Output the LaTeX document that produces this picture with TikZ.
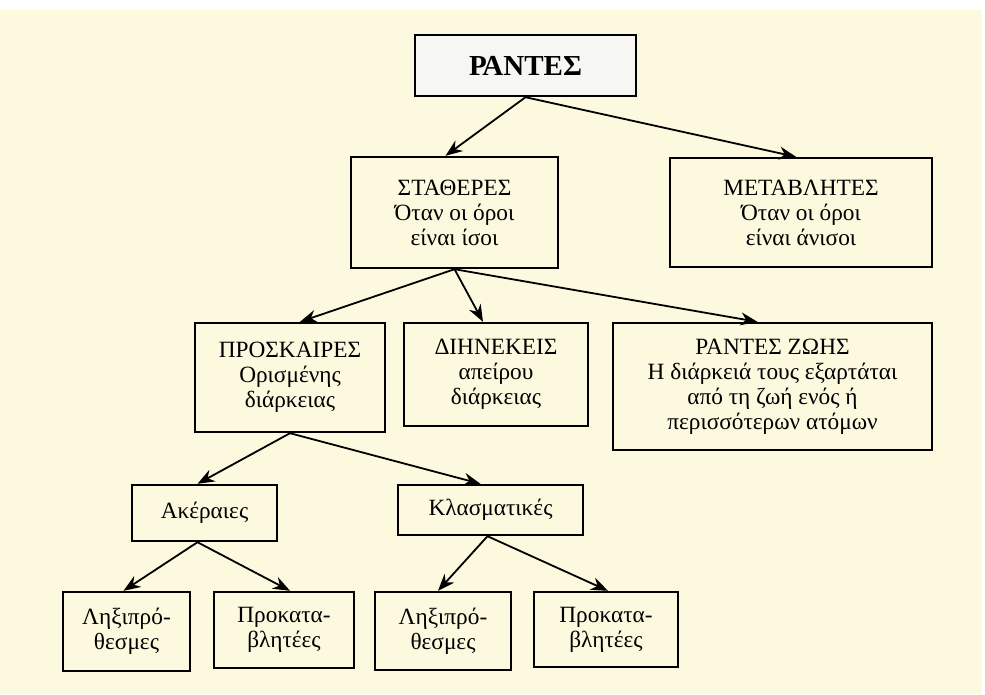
\documentclass[tikz,border=0pt]{standalone}
\usepackage{fontspec}
\setmainfont{Liberation Serif}
\usetikzlibrary{arrows.meta}
\definecolor{cream}{RGB}{252,249,222}
\definecolor{paper}{RGB}{246,246,243}

\begin{document}
\begin{tikzpicture}[x=1pt,y=-1pt,->,>={Stealth[length=17pt,width=13pt]},line width=1.8pt,
	state/.style={draw=black,line width=2.4pt,rectangle,fill=cream,align=center,inner sep=0pt,font=\fontsize{23.3}{25}\selectfont},
	root/.style={state,fill=paper,font=\fontsize{29}{32}\selectfont\bfseries}]
	% background
	\fill[-,white] (0,0) rectangle (985,694);
	\fill[-,cream] (0,10) rectangle (982,694);
	\useasboundingbox (0,0) rectangle (985,694);

	\node[root]		(rantes)	at (525.5,65.5)	[minimum width=221pt,minimum height=61pt]	{ΡΑΝΤΕΣ};
	\node[state]	(stath)		at (454.5,212.5)	[minimum width=207pt,minimum height=111pt]	{ΣΤΑΘΕΡΕΣ\\Όταν οι όροι\\είναι ίσοι};
	\node[state]	(metab)		at (801,212.5)	[minimum width=262pt,minimum height=109pt]	{ΜΕΤΑΒΛΗΤΕΣ\\Όταν οι όροι\\είναι άνισοι};
	\node[state]	(prosk)		at (290,377.5)	[minimum width=190pt,minimum height=109pt]	{ΠΡΟΣΚΑΙΡΕΣ\\Ορισμένης\\διάρκειας};
	\node[state]	(dien)		at (496,374.5)	[minimum width=184pt,minimum height=103pt]	{ΔΙΗΝΕΚΕΙΣ\\απείρου\\διάρκειας};
	\node[state]	(zoi)		at (772.5,386.5)	[minimum width=319pt,minimum height=127pt]	{ΡΑΝΤΕΣ ΖΩΗΣ\\Η διάρκειά τους εξαρτάται\\από τη ζωή ενός ή\\περισσότερων ατόμων};
	\node[state]	(aker)		at (204.5,513)	[minimum width=145pt,minimum height=56pt]	{Ακέραιες};
	\node[state]	(klasm)		at (490.5,510)	[minimum width=185pt,minimum height=50pt]	{Κλασματικές};
	\node[state]	(lix1)		at (126.5,631.5)	[minimum width=127pt,minimum height=79pt]	{Ληξιπρό-\\θεσμες};
	\node[state]	(prok1)		at (284,630)	[minimum width=140pt,minimum height=76pt]	{Προκατα-\\βλητέες};
	\node[state]	(lix2)		at (443,631)	[minimum width=136pt,minimum height=78pt]	{Ληξιπρό-\\θεσμες};
	\node[state]	(prok2)		at (606,629.5)	[minimum width=144pt,minimum height=75pt]	{Προκατα-\\βλητέες};

	\path
		(rantes.south)				edge	([xshift=-9pt]stath.north)
		(rantes.south)				edge	([xshift=-5pt]metab.north)
		(stath.south)				edge	([xshift=10pt]prosk.north)
		(stath.south)				edge	([xshift=-13pt]dien.north)
		(stath.south)				edge	([xshift=-15pt]zoi.north)
		(prosk.south)				edge	([xshift=-7pt]aker.north)
		(prosk.south)				edge	([xshift=-10pt]klasm.north)
		([xshift=-7pt]aker.south)	edge	([xshift=-3pt]lix1.north)
		([xshift=-7pt]aker.south)	edge	([xshift=6pt]prok1.north)
		([xshift=-3pt]klasm.south)	edge	([xshift=-5pt]lix2.north)
		([xshift=-3pt]klasm.south)	edge	([xshift=2pt]prok2.north)
	;
\end{tikzpicture}
\end{document}
